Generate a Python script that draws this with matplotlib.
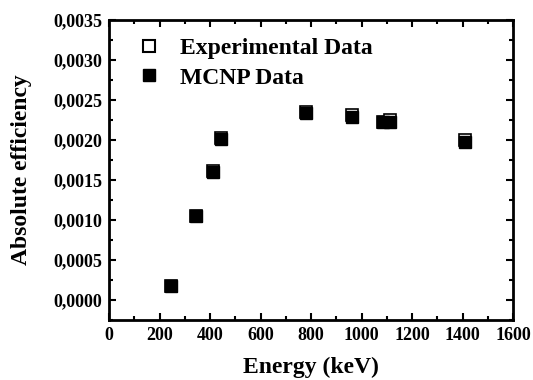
import matplotlib
matplotlib.use("Agg")
import matplotlib.pyplot as plt
from matplotlib.ticker import MultipleLocator, FuncFormatter
from matplotlib.lines import Line2D

energy = [245, 344, 411, 444, 779, 964, 1086, 1112, 1408]
exp_eff = [0.00018, 0.00105, 0.00161, 0.00202, 0.00235, 0.00231, 0.00222, 0.00225, 0.00200]
exp_err = [0.00002, 0.00003, 0.00004, 0.00005, 0.00005, 0.00005, 0.00005, 0.00005, 0.00005]
mcnp_eff = [0.00017, 0.00105, 0.00160, 0.00201, 0.00234, 0.00229, 0.00222, 0.00222, 0.00198]
mcnp_err = [0.00002, 0.00002, 0.00003, 0.00004, 0.00004, 0.00004, 0.00004, 0.00004, 0.00004]

plt.rcParams['font.family'] = ['Liberation Serif', 'DejaVu Serif']
plt.rcParams['font.weight'] = 'bold'

fig = plt.figure(figsize=(5.33, 3.8), dpi=100)
ax = fig.add_axes([0.2045, 0.158, 0.758, 0.789])

ax.errorbar(energy, mcnp_eff, yerr=mcnp_err, fmt='s', color='black', ms=9,
            mfc='black', mec='black', capsize=0, elinewidth=1.2, zorder=3)
ax.errorbar(energy, exp_eff, yerr=exp_err, fmt='s', color='black', ms=9,
            mfc='white', mec='black', mew=1.2, capsize=0, elinewidth=1.2, zorder=2)

ax.set_xlim(0, 1600)
ax.set_ylim(-0.00025, 0.0035)
ax.xaxis.set_major_locator(MultipleLocator(200))
ax.xaxis.set_minor_locator(MultipleLocator(100))
ax.yaxis.set_major_locator(MultipleLocator(0.0005))
ax.yaxis.set_minor_locator(MultipleLocator(0.00025))
ax.yaxis.set_major_formatter(FuncFormatter(lambda v, p: f"{v:.4f}".replace('.', ',').replace('-', '')))

ax.tick_params(which='both', direction='in', top=True, right=True, width=1.5)
ax.tick_params(which='major', length=5, labelsize=13, pad=5)
ax.tick_params(which='minor', length=3)
for lab in ax.get_xticklabels() + ax.get_yticklabels():
    lab.set_fontweight('bold')
for s in ax.spines.values():
    s.set_linewidth(2)

ax.set_xlabel('Energy (keV)', fontsize=17, fontweight='bold', labelpad=9)
ax.set_ylabel('Absolute efficiency', fontsize=17, fontweight='bold', labelpad=15)

h_exp = Line2D([], [], marker='s', ls='none', ms=8, mfc='white', mec='black', mew=1.5)
h_mc = Line2D([], [], marker='s', ls='none', ms=8.5, mfc='black', mec='black')
ax.legend([h_exp, h_mc], ['Experimental Data', 'MCNP Data'], loc='upper left', frameon=False,
          prop={'size': 17, 'weight': 'bold'}, handletextpad=0.7,
          bbox_to_anchor=(0.023, 0.998), borderaxespad=0.3, labelspacing=0.35,
          handlelength=1.2)

fig.savefig('out.png', dpi=100)
